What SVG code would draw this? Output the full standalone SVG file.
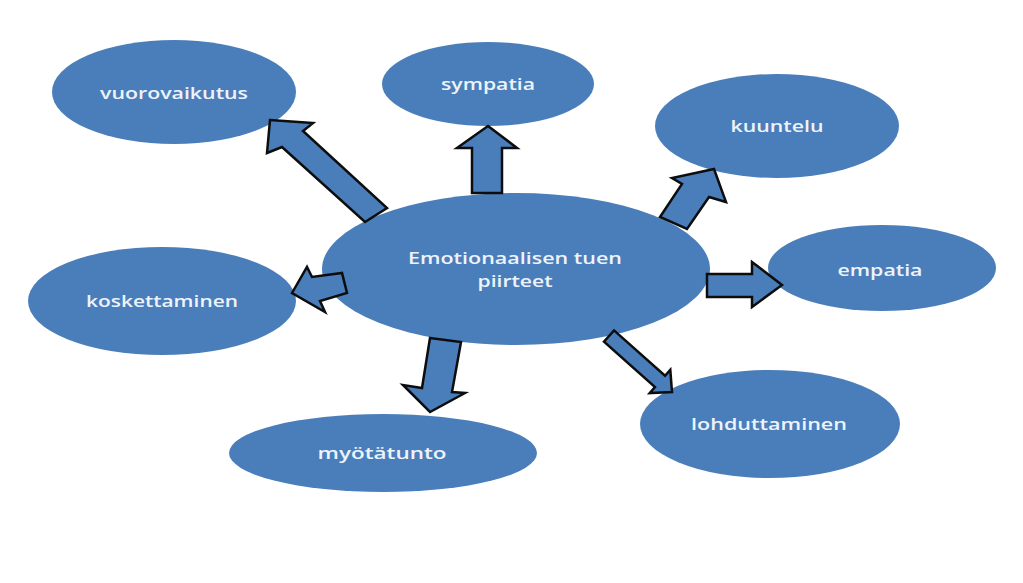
<svg xmlns="http://www.w3.org/2000/svg" width="1023" height="583" viewBox="0 0 1023 583">
<style>
.node ellipse{fill:#4a7ebb;}
.node text{fill:#eef3fa;font-family:"Open Sans","Liberation Sans",sans-serif;font-size:17px;font-weight:600;text-anchor:middle;}
.arrow{fill:#4a7ebb;stroke:#0d0d0d;stroke-width:2.5;stroke-linejoin:miter;}
</style>
<rect width="1023" height="583" fill="#ffffff"/>
<g id="n-vuorovaikutus" class="node"><ellipse cx="174" cy="92" rx="122" ry="52"/><text x="174" y="99" textLength="148" lengthAdjust="spacingAndGlyphs">vuorovaikutus</text></g>
<g id="n-sympatia" class="node"><ellipse cx="488" cy="84" rx="106" ry="42"/><text x="488" y="90" textLength="94" lengthAdjust="spacingAndGlyphs">sympatia</text></g>
<g id="n-kuuntelu" class="node"><ellipse cx="777" cy="126" rx="122" ry="52"/><text x="777" y="132" textLength="93" lengthAdjust="spacingAndGlyphs">kuuntelu</text></g>
<g id="n-empatia" class="node"><ellipse cx="882" cy="268" rx="114" ry="43"/><text x="880" y="276" textLength="85" lengthAdjust="spacingAndGlyphs">empatia</text></g>
<g id="n-lohduttaminen" class="node"><ellipse cx="770" cy="424" rx="130" ry="54"/><text x="769" y="430" textLength="156" lengthAdjust="spacingAndGlyphs">lohduttaminen</text></g>
<g id="n-myotatunto" class="node"><ellipse cx="383" cy="453" rx="154" ry="39"/><text x="382" y="459" textLength="129" lengthAdjust="spacingAndGlyphs">myötätunto</text></g>
<g id="n-koskettaminen" class="node"><ellipse cx="162" cy="301" rx="134" ry="54"/><text x="162" y="307" textLength="152" lengthAdjust="spacingAndGlyphs">koskettaminen</text></g>
<g id="n-center" class="node"><ellipse cx="516" cy="269" rx="194" ry="76"/><text x="515" y="264" textLength="214" lengthAdjust="spacingAndGlyphs">Emotionaalisen tuen</text><text x="515" y="287" textLength="75" lengthAdjust="spacingAndGlyphs">piirteet</text></g>
<g id="connectors">
<polygon class="arrow" points="270,120 313,123 303,131 387,208 365,222 282,147 267,153"/>
<polygon class="arrow" points="488,126 517,148 502,148 502,193 472,193 472,148 457,148"/>
<polygon class="arrow" points="714,169 726,202 709,197 687,229 660,217 682,184 672,178"/>
<polygon class="arrow" points="707,274 752,274 752,262 782,285 752,307 752,297 707,297"/>
<polygon class="arrow" points="614,330.4 665,375.8 670.3,369.8 672,392 649.7,393 655,387 604,341.6"/>
<polygon class="arrow" points="430,338 461,342 452,392 465,393 430,412 403,385 422,388"/>
<polygon class="arrow" points="292,293 307,267 312,277 342,273 347,293 320,301 325,312"/>
</g>
</svg>
